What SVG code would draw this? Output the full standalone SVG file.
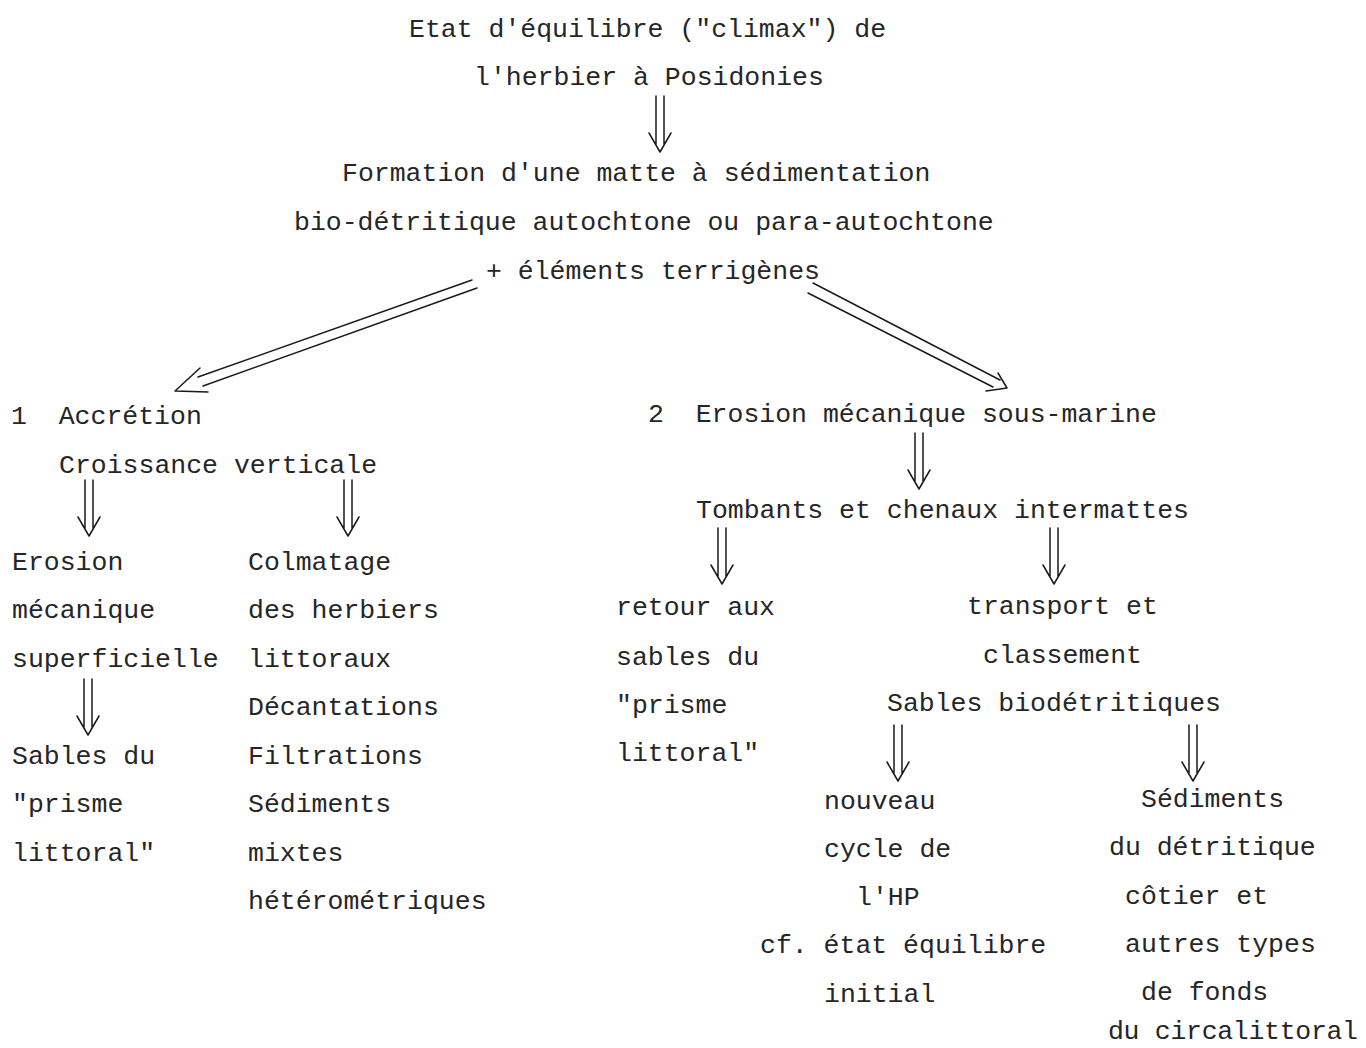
<svg xmlns="http://www.w3.org/2000/svg" width="1366" height="1048" viewBox="0 0 1366 1048">
<style>
text{font-family:"Liberation Mono","DejaVu Sans Mono",monospace;font-size:26.5px;fill:#262626}
.ln{fill:none;stroke:#1a1a1a;stroke-width:1.5;stroke-linecap:round;stroke-linejoin:round}
</style>
<defs>
<path id="dn" class="ln" d="M-4,0 V48 M4,0 V48 M-11,37 L0,56 L11,37"/>
</defs>
<rect width="1366" height="1048" fill="#fff"/>
<g id="n-climax">
<text x="409" y="37">Etat d'équilibre ("climax") de</text>
<text x="474" y="85">l'herbier à Posidonies</text>
</g>
<g id="n-matte">
<text x="342" y="181">Formation d'une matte à sédimentation</text>
<text x="294" y="230">bio-détritique autochtone ou para-autochtone</text>
<text x="486" y="279">+ éléments terrigènes</text>
</g>
<g id="n-accretion">
<text x="11" y="424" xml:space="preserve">1  Accrétion</text>
<text x="59" y="473">Croissance verticale</text>
</g>
<g id="n-erosion-sup">
<text x="12" y="570">Erosion</text>
<text x="12" y="618">mécanique</text>
<text x="12" y="667">superficielle</text>
</g>
<g id="n-sables-prisme">
<text x="12" y="764">Sables du</text>
<text x="12" y="812">"prisme</text>
<text x="12" y="861">littoral"</text>
</g>
<g id="n-colmatage">
<text x="248" y="570">Colmatage</text>
<text x="248" y="618">des herbiers</text>
<text x="248" y="667">littoraux</text>
<text x="248" y="715">Décantations</text>
<text x="248" y="764">Filtrations</text>
<text x="248" y="812">Sédiments</text>
<text x="248" y="861">mixtes</text>
<text x="248" y="909">hétérométriques</text>
</g>
<g id="n-erosion-sm">
<text x="648" y="422" xml:space="preserve">2  Erosion mécanique sous-marine</text>
</g>
<g id="n-tombants">
<text x="696" y="518">Tombants et chenaux intermattes</text>
</g>
<g id="n-retour">
<text x="616" y="615">retour aux</text>
<text x="616" y="665">sables du</text>
<text x="616" y="713">"prisme</text>
<text x="616" y="761">littoral"</text>
</g>
<g id="n-transport">
<text x="967" y="614">transport et</text>
<text x="983" y="663">classement</text>
<text x="887" y="711">Sables biodétritiques</text>
</g>
<g id="n-nouveau">
<text x="824" y="809">nouveau</text>
<text x="824" y="857">cycle de</text>
<text x="856" y="905">l'HP</text>
<text x="760" y="953">cf. état équilibre</text>
<text x="824" y="1002">initial</text>
</g>
<g id="n-sediments">
<text x="1141" y="807">Sédiments</text>
<text x="1109" y="855">du détritique</text>
<text x="1125" y="904">côtier et</text>
<text x="1125" y="952">autres types</text>
<text x="1141" y="1000">de fonds</text>
<text x="1108" y="1039" textLength="250" lengthAdjust="spacing">du circalittoral</text>
</g>
<g id="connectors">
<use href="#dn" x="660" y="96"/>
<path class="ln" d="M472,280 L198,377 M477,288 L203,386 M200,368 L175,391 L208,392"/>
<path class="ln" d="M813,283 L1000,380 M808,293 L993,387 M998,373 L1007,388 L986,391"/>
<use href="#dn" x="89" y="480"/>
<use href="#dn" x="348" y="480"/>
<use href="#dn" x="88" y="679"/>
<use href="#dn" x="919" y="433"/>
<use href="#dn" x="722" y="528"/>
<use href="#dn" x="1054" y="528"/>
<use href="#dn" x="898" y="725"/>
<use href="#dn" x="1193" y="725"/>
</g>
</svg>
